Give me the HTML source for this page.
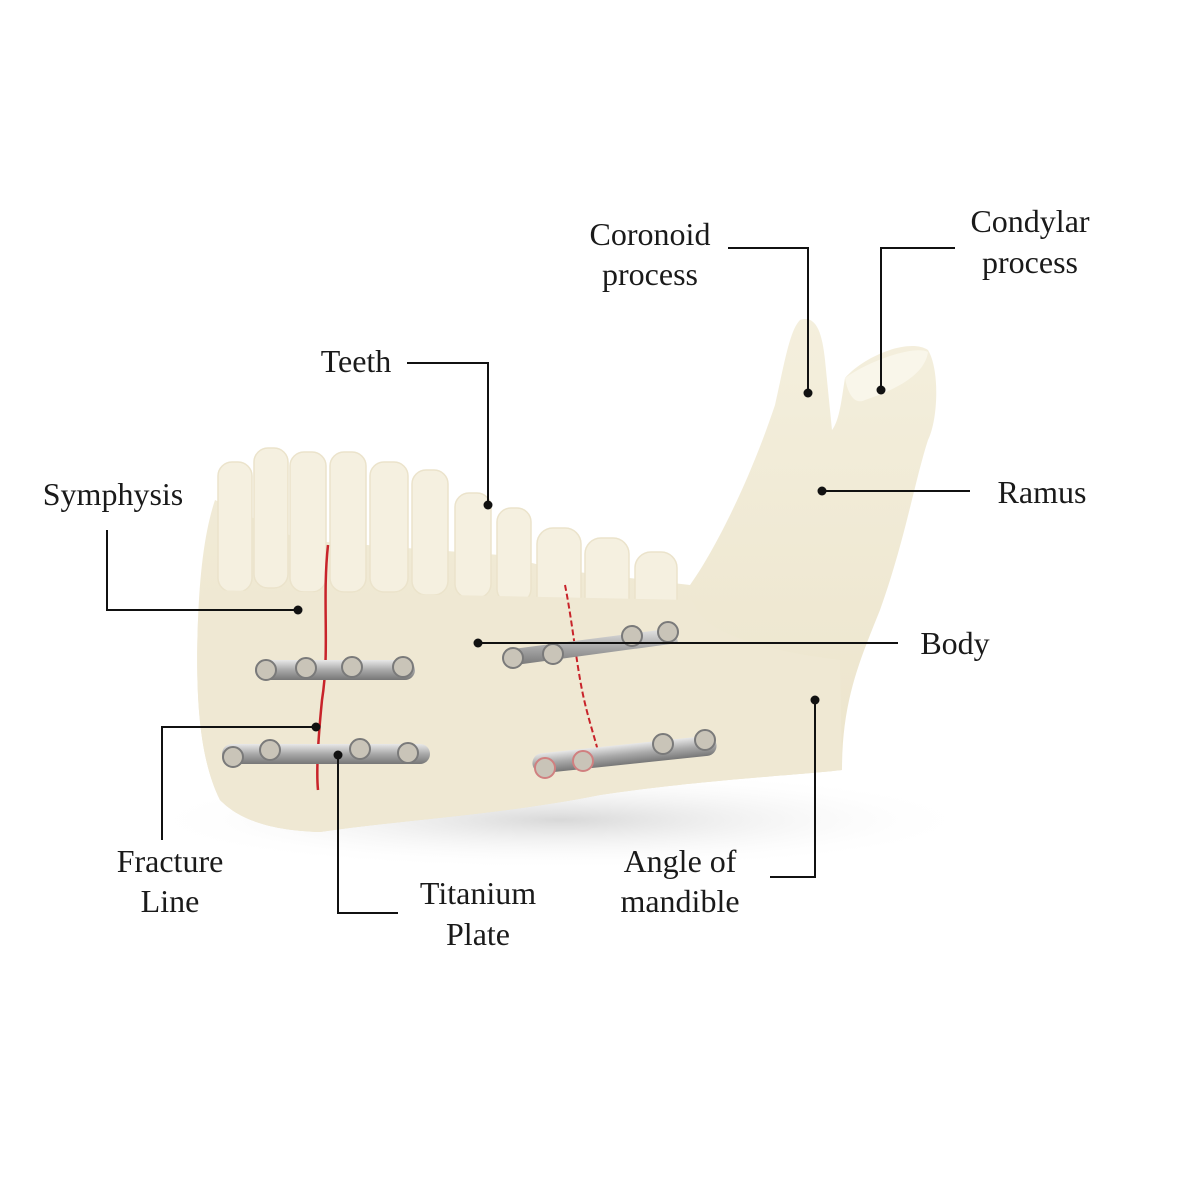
<!DOCTYPE html>
<html><head><meta charset="utf-8"><style>
html,body{margin:0;padding:0;background:#fff;}
svg{display:block}
text{font-family:"Liberation Serif",serif;font-size:32px;fill:#1a1a1a;}
</style></head><body>
<svg width="1200" height="1200" viewBox="0 0 1200 1200" xmlns="http://www.w3.org/2000/svg">
<defs>
<radialGradient id="sh" cx="0.5" cy="0.5" r="0.5"><stop offset="0" stop-color="#d8d8d8"/><stop offset="1" stop-color="#fff" stop-opacity="0"/></radialGradient>
<linearGradient id="bone" x1="0" y1="0" x2="0" y2="1"><stop offset="0" stop-color="#f4efdd"/><stop offset="1" stop-color="#ebe3ca"/></linearGradient>
<linearGradient id="metal" x1="0" y1="0" x2="0" y2="1"><stop offset="0" stop-color="#e8e8e8"/><stop offset="0.5" stop-color="#a9a9a9"/><stop offset="1" stop-color="#777"/></linearGradient>
</defs>
<ellipse cx="560" cy="820" rx="420" ry="50" fill="url(#sh)"/>
<!-- bone -->
<path d="M215,500 L300,540 L500,555 L560,570 L690,585 C715,550 750,480 775,405 C785,360 790,330 800,320 C815,315 822,330 825,360 L832,430 C840,420 842,395 845,378 C865,355 910,338 928,350 C940,370 938,420 928,440 C915,480 905,540 880,610 C860,660 842,700 842,770 C800,775 700,780 600,795 C500,815 400,820 320,832 C260,830 235,815 220,800 C200,760 195,700 198,620 C200,570 205,530 215,500 Z" fill="url(#bone)"/>
<!-- teeth -->
<g fill="#f5f0e0" stroke="#ebe3cb" stroke-width="1.5">
<rect x="218" y="462" width="34" height="130" rx="14"/>
<rect x="254" y="448" width="34" height="140" rx="14"/>
<rect x="290" y="452" width="36" height="140" rx="14"/>
<rect x="330" y="452" width="36" height="140" rx="14"/>
<rect x="370" y="462" width="38" height="130" rx="14"/>
<rect x="412" y="470" width="36" height="125" rx="14"/>
<rect x="455" y="493" width="36" height="105" rx="14"/>
<rect x="497" y="508" width="34" height="95" rx="14"/>
<rect x="537" y="528" width="44" height="85" rx="16"/>
<rect x="585" y="538" width="44" height="80" rx="16"/>
<rect x="635" y="552" width="42" height="65" rx="16"/>
</g>
<path d="M205,590 L690,600 C700,600 680,640 840,660 L842,770 C800,775 700,780 600,795 C500,815 400,820 320,832 C260,830 235,815 220,800 C200,760 195,700 198,620Z" fill="#efe8d3"/>
<!-- condyle top -->
<path d="M845,378 C870,360 915,345 928,352 C925,375 895,390 865,400 C855,405 848,395 845,378Z" fill="#f9f6ea"/>
<!-- fracture lines -->
<path d="M328,545 C322,600 330,650 322,700 C318,740 316,770 318,790" stroke="#c8232a" stroke-width="2.5" fill="none"/>
<path d="M565,585 C572,620 576,660 582,690 C588,720 596,740 600,760" stroke="#c8232a" stroke-width="2" fill="none" stroke-dasharray="6 3"/>
<!-- plates -->
<g>
<rect x="255" y="660" width="160" height="20" rx="10" fill="url(#metal)"/>
<rect x="222" y="744" width="208" height="20" rx="10" fill="url(#metal)"/>
<path d="M505,650 L675,628 L678,643 L508,666Z" fill="url(#metal)"/>
<rect x="532" y="745" width="185" height="20" rx="10" fill="url(#metal)" transform="rotate(-6 620 755)"/>
</g>
<g fill="#c9c4b8" stroke="#7a7a7a" stroke-width="2">
<circle cx="266" cy="670" r="10"/><circle cx="306" cy="668" r="10"/><circle cx="352" cy="667" r="10"/><circle cx="403" cy="667" r="10"/>
<circle cx="233" cy="757" r="10"/><circle cx="270" cy="750" r="10"/><circle cx="360" cy="749" r="10"/><circle cx="408" cy="753" r="10"/>
<circle cx="513" cy="658" r="10"/><circle cx="553" cy="654" r="10"/><circle cx="632" cy="636" r="10"/><circle cx="668" cy="632" r="10"/>
<circle cx="545" cy="768" r="10" stroke="#d08080"/><circle cx="583" cy="761" r="10" stroke="#d08080"/><circle cx="663" cy="744" r="10"/><circle cx="705" cy="740" r="10"/>
</g>
<!-- leader lines -->
<g stroke="#111" stroke-width="2" fill="none">
<polyline points="728,248 808,248 808,393"/>
<polyline points="955,248 881,248 881,390"/>
<polyline points="407,363 488,363 488,505"/>
<polyline points="107,530 107,610 298,610"/>
<line x1="822" y1="491" x2="970" y2="491"/>
<line x1="478" y1="643" x2="898" y2="643"/>
<polyline points="316,727 162,727 162,840"/>
<polyline points="338,755 338,913 398,913"/>
<polyline points="815,700 815,877 770,877"/>
</g>
<g fill="#111">
<circle cx="808" cy="393" r="4.5"/><circle cx="881" cy="390" r="4.5"/><circle cx="488" cy="505" r="4.5"/>
<circle cx="298" cy="610" r="4.5"/><circle cx="822" cy="491" r="4.5"/><circle cx="478" cy="643" r="4.5"/>
<circle cx="316" cy="727" r="4.5"/><circle cx="338" cy="755" r="4.5"/><circle cx="815" cy="700" r="4.5"/>
</g>
<!-- labels -->
<g text-anchor="middle">
<text x="650" y="245">Coronoid</text><text x="650" y="285">process</text>
<text x="1030" y="232">Condylar</text><text x="1030" y="273">process</text>
<text x="356" y="372">Teeth</text>
<text x="113" y="505">Symphysis</text>
<text x="1042" y="503">Ramus</text>
<text x="955" y="654">Body</text>
<text x="170" y="872">Fracture</text><text x="170" y="912">Line</text>
<text x="478" y="904">Titanium</text><text x="478" y="945">Plate</text>
<text x="680" y="872">Angle of</text><text x="680" y="912">mandible</text>
</g>
</svg>
</body></html>
